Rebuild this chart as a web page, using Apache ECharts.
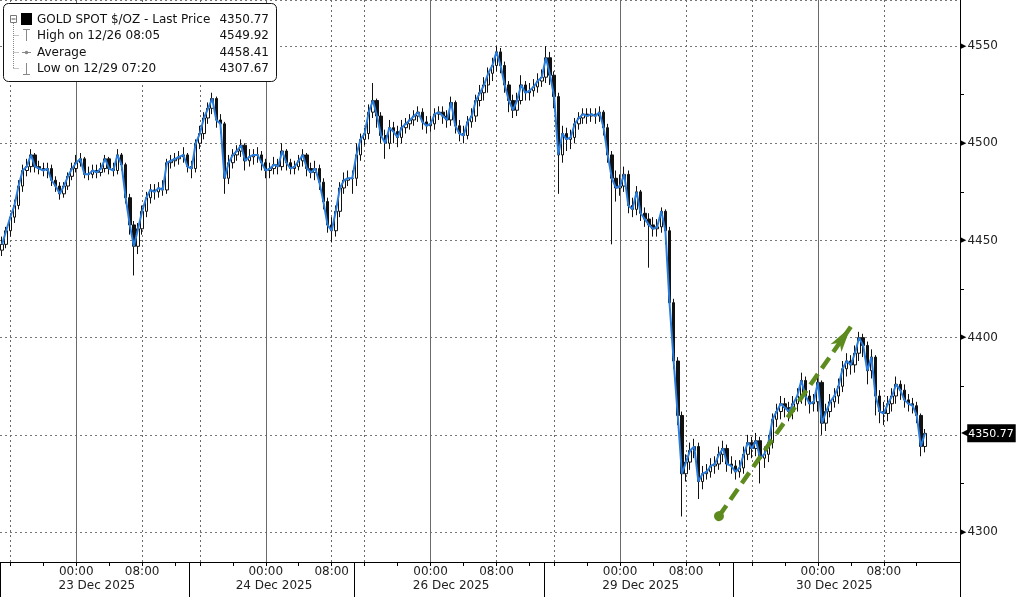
<!DOCTYPE html>
<html><head><meta charset="utf-8">
<script src="https://cdn.jsdelivr.net/npm/echarts@6/dist/echarts.min.js"></script>
<style>html,body{margin:0;padding:0;background:#fff}#c{width:1017px;height:597px}</style>
</head><body><div id="c"></div>
<script>
// ---- Trading sessions (30-minute slots) ----
const sessionLabels = ['23 Dec 2025', '24 Dec 2025', '26 Dec 2025', '29 Dec 2025', '30 Dec 2025'];
const sessionStartDay = [22, 23, 25, 28, 29];
const sessionStartHour = [15, 15, 15, 15, 14];
const sessionSlots = [46, 40, 46, 46, 48];
const blankSlotsRight = 7;

// ---- Price data (30-minute bars) ----
const firstOpen = 4445;
const closes = [
 4448,4455,4462,4468,4478,4486,4488,4494,4488,4487,
 4486,4487,4481,4478,4474,4478,4483,4487,4490,4492,
 4484,4484,4486,4485,4487,4492,4487,4486,4494,4489,
 4472,4458,4447,4456,4465,4472,4476,4475,4477,4476,
 4490,4491,4492,4493,4494,4488,
 4487,4500,4505,4513,4518,4523,4512,4510,4482,4490,
 4494,4496,4499,4491,4493,4494,4494,4490,4486,4487,
 4489,4488,4496,4490,4487,4488,4491,4494,4487,4485,
 4487,4480,4470,4458,4455,4465,4477,4481,4482,4482,
 4494,4502,4505,4516,4522,4514,4504,4500,4508,4506,
 4503,4508,4510,4512,4514,4516,4511,4509,4510,4515,
 4516,4514,4512,4521,4509,4505,4504,4511,4514,4522,
 4526,4530,4536,4540,4547,4540,4530,4522,4517,4522,
 4530,4526,4527,4529,4532,4534,
 4544,4535,4524,4494,4505,4502,4503,4510,4513,4515,
 4514,4515,4514,4516,4508,4494,4482,4477,4478,4484,
 4468,4466,4475,4464,4461,4458,4456,4457,4465,4455,
 4418,4388,4360,4330,4336,4342,4344,4326,4330,4331,
 4334,4335,4340,4343,4335,4334,
 4331,4333,4340,4346,4343,4347,4338,4340,4346,4358,
 4362,4366,4364,4362,4366,4370,4378,4370,4366,4367,
 4377,4356,4362,4367,4370,4375,4384,4388,4386,4392,
 4400,4396,4383,4390,4370,4362,4361,4366,4370,4376,
 4373,4368,4366,4365,4360,4344,4350.77
];
const highs = [
 4452,4457,4464,4471,4481,4489,4492,4497,4495,4491,
 4490,4490,4489,4483,4480,4480,4485,4490,4494,4495,
 4493,4488,4489,4489,4490,4494,4493,4490,4497,4495,
 4490,4474,4460,4459,4468,4475,4479,4479,4480,4481,
 4492,4494,4495,4496,4498,4495,
 4491,4502,4509,4516,4521,4526,4524,4515,4511,4494,
 4497,4499,4502,4500,4497,4497,4498,4496,4492,4490,
 4493,4492,4500,4497,4492,4491,4494,4497,4495,4490,
 4491,4489,4482,4472,4462,4468,4480,4485,4486,4486,
 4500,4505,4508,4520,4531,4523,4516,4507,4512,4511,
 4509,4512,4513,4515,4517,4519,4518,4514,4514,4518,
 4519,4519,4517,4524,4522,4512,4509,4514,4518,4525,
 4530,4534,4539,4544,4550,4549,4542,4532,4525,4526,
 4535,4532,4531,4533,4536,4538,
 4550,4547,4537,4526,4509,4508,4507,4513,4516,4518,
 4518,4518,4518,4519,4517,4510,4496,4486,4484,4488,
 4486,4472,4478,4476,4467,4464,4462,4461,4467,4466,
 4457,4420,4390,4362,4340,4346,4348,4346,4334,4335,
 4338,4339,4344,4347,4345,4339,
 4337,4337,4344,4350,4349,4351,4349,4344,4350,4361,
 4366,4370,4369,4367,4370,4374,4382,4380,4373,4371,
 4380,4378,4366,4371,4374,4379,4388,4392,4391,4396,
 4403,4402,4398,4394,4391,4373,4367,4370,4374,4380,
 4378,4376,4371,4369,4367,4361,4353
];
const lows = [
 4442,4446,4452,4459,4466,4475,4483,4485,4485,4484,
 4483,4482,4478,4475,4471,4472,4476,4481,4485,4488,
 4482,4481,4482,4482,4483,4485,4484,4483,4484,4486,
 4469,4453,4432,4443,4453,4462,4469,4471,4472,4473,
 4474,4487,4488,4489,4490,4485,
 4482,4485,4497,4502,4510,4515,4508,4505,4474,4479,
 4487,4491,4493,4486,4488,4489,4490,4486,4482,4482,
 4484,4484,4486,4486,4484,4484,4486,4488,4483,4482,
 4481,4476,4466,4454,4449,4452,4462,4474,4478,4474,
 4478,4491,4499,4502,4513,4508,4500,4492,4497,4500,
 4498,4500,4505,4507,4509,4511,4507,4505,4506,4507,
 4512,4510,4508,4509,4505,4501,4500,4502,4508,4511,
 4519,4522,4526,4532,4537,4536,4526,4516,4513,4514,
 4520,4522,4522,4524,4526,4529,
 4531,4530,4518,4474,4490,4496,4497,4500,4507,4510,
 4510,4511,4510,4511,4504,4490,4448,4470,4473,4475,
 4464,4462,4463,4460,4457,4436,4452,4452,4454,4448,
 4414,4384,4355,4308,4326,4332,4338,4317,4322,4327,
 4328,4330,4332,4336,4331,4330,
 4327,4328,4330,4337,4338,4339,4325,4333,4336,4343,
 4354,4358,4359,4357,4358,4362,4366,4365,4361,4362,
 4362,4350,4352,4359,4364,4366,4372,4380,4381,4382,
 4388,4390,4376,4379,4360,4356,4355,4357,4362,4366,
 4368,4364,4362,4361,4356,4339,4341
];
const lastPrice = 4350.77;
const legendRows = [
 ['GOLD SPOT $/OZ - Last Price', '4350.77'],
 ['High on 12/26 08:05', '4549.92'],
 ['Average', '4458.41'],
 ['Low on 12/29 07:20', '4307.67']
];
// trend arrow annotation (slot index, price)
const arrowStart = [174, 4308.2];
const arrowEnd = [206, 4405.6];

// y range of the plot
const yMin = 4284.6, yMax = 4573.7;

// ---- build categories ----
function pad(n){ return (n < 10 ? '0' : '') + n; }
const categories = [];
const sessionStartIdx = [];
for (let s = 0; s < sessionLabels.length; s++) {
  sessionStartIdx.push(categories.length);
  for (let k = 0; k < sessionSlots[s]; k++) {
    const m = sessionStartHour[s] * 60 + 30 * k;
    const day = sessionStartDay[s] + Math.floor(m / 1440);
    const mm = m % 1440;
    categories.push(day + ' Dec ' + pad(Math.floor(mm / 60)) + ':' + pad(mm % 60));
  }
}
const axisEndIdx = categories.length;
for (let k = 0; k < blankSlotsRight; k++) categories.push('blank' + k);
const timeOf = v => (v.indexOf('Dec') >= 0 ? v.split(' ')[2] : '');

const dateLabelAt = {};
for (let s = 0; s < sessionLabels.length; s++) {
  const a = sessionStartIdx[s];
  const b = s + 1 < sessionStartIdx.length ? sessionStartIdx[s + 1] : axisEndIdx;
  dateLabelAt[Math.round((a + b) / 2)] = sessionLabels[s];
}

const candles = closes.map((c, i) => [i === 0 ? firstOpen : closes[i - 1], c, lows[i], highs[i]]);

const gridLines = [];
for (let i = 0; i < axisEndIdx; i++) {
  const t = timeOf(categories[i]);
  if (t === '00:00') gridLines.push({xAxis: categories[i], lineStyle: {color: '#6a6a6a', type: 'solid', width: 1}});
  else if (t === '08:00' || t === '16:00') gridLines.push({xAxis: categories[i], lineStyle: {color: '#6a6a6a', type: [2, 3], width: 1}});
}

const FONT = 'DejaVu Sans';
const chart = echarts.init(document.getElementById('c'));

const graphics = [
  {type: 'rect', z: 100, shape: {x: 3.5, y: 3.5, width: 273, height: 78, r: 5}, style: {fill: '#fff', stroke: '#111', lineWidth: 1}},
  {type: 'line', z: 101, shape: {x1: 13.5, y1: 23, x2: 13.5, y2: 68.5}, style: {stroke: '#888', lineDash: [1, 1]}},
  {type: 'line', z: 101, shape: {x1: 13.5, y1: 35.5, x2: 19, y2: 35.5}, style: {stroke: '#888', lineDash: [1, 1]}},
  {type: 'line', z: 101, shape: {x1: 13.5, y1: 52.5, x2: 19, y2: 52.5}, style: {stroke: '#888', lineDash: [1, 1]}},
  {type: 'line', z: 101, shape: {x1: 13.5, y1: 68.5, x2: 19, y2: 68.5}, style: {stroke: '#888', lineDash: [1, 1]}},
  {type: 'rect', z: 102, shape: {x: 10.5, y: 15.5, width: 6, height: 7}, style: {fill: '#fff', stroke: '#777', lineWidth: 1}},
  {type: 'line', z: 103, shape: {x1: 11.5, y1: 19, x2: 15.5, y2: 19}, style: {stroke: '#555', lineWidth: 1}},
  {type: 'rect', z: 102, shape: {x: 21, y: 13, width: 11, height: 12}, style: {fill: '#000'}},
  // High icon
  {type: 'line', z: 102, shape: {x1: 23, y1: 29.5, x2: 30, y2: 29.5}, style: {stroke: '#888', lineWidth: 1}},
  {type: 'line', z: 102, shape: {x1: 26.5, y1: 29.5, x2: 26.5, y2: 41}, style: {stroke: '#888', lineWidth: 1}},
  // Average icon
  {type: 'line', z: 102, shape: {x1: 22, y1: 52.5, x2: 31, y2: 52.5}, style: {stroke: '#888', lineWidth: 1}},
  {type: 'circle', z: 102, shape: {cx: 26.5, cy: 52.5, r: 1.8}, style: {fill: '#888'}},
  // Low icon
  {type: 'line', z: 102, shape: {x1: 26.5, y1: 63, x2: 26.5, y2: 74.5}, style: {stroke: '#888', lineWidth: 1}},
  {type: 'line', z: 102, shape: {x1: 23, y1: 74.5, x2: 30, y2: 74.5}, style: {stroke: '#888', lineWidth: 1}}
];
const rowY = [19.5, 35.5, 52.5, 69];
legendRows.forEach((r, k) => {
  graphics.push({type: 'text', z: 104, x: 37, y: rowY[k], style: {text: r[0], fill: '#111', font: '12px "DejaVu Sans"', verticalAlign: 'middle', align: 'left'}});
  graphics.push({type: 'text', z: 104, x: 269, y: rowY[k], style: {text: r[1], fill: '#111', font: '12px "DejaVu Sans"', verticalAlign: 'middle', align: 'right'}});
});

chart.setOption({
  animation: false,
  backgroundColor: '#fff',
  grid: {left: 0, right: 57, top: 0, bottom: 35, containLabel: false},
  xAxis: [
    {
      type: 'category', data: categories, boundaryGap: true, position: 'bottom',
      axisLine: {show: true, lineStyle: {color: '#000', width: 1}},
      axisTick: {show: true, alignWithLabel: true, length: 4, lineStyle: {color: '#000'},
        interval: (i, v) => { const t = timeOf(v); return t !== '' && t.slice(3) === '00' && (+t.slice(0, 2)) % 4 === 0; }},
      axisLabel: {show: true, margin: 4, color: '#222', fontFamily: FONT, fontSize: 12,
        interval: (i, v) => { const t = timeOf(v); return t === '00:00' || t === '08:00'; },
        formatter: v => timeOf(v)},
      splitLine: {show: false}
    },
    {
      type: 'category', data: categories, boundaryGap: true, position: 'bottom',
      axisLine: {show: false},
      axisTick: {show: true, alignWithLabel: false, length: 36, lineStyle: {color: '#000'},
        interval: (i) => sessionStartIdx.indexOf(i) >= 0},
      axisLabel: {show: true, margin: 18, color: '#222', fontFamily: FONT, fontSize: 12,
        interval: (i) => dateLabelAt[i] !== undefined,
        formatter: (v, i) => dateLabelAt[i] || ''},
      splitLine: {show: false}
    }
  ],
  yAxis: {
    type: 'value', position: 'right', min: yMin, max: yMax, splitNumber: 5, scale: true,
    axisLine: {show: true, lineStyle: {color: '#000', width: 1}},
    axisTick: {show: false},
    minorTick: {show: true, splitNumber: 2, length: 4, lineStyle: {color: '#000'}},
    splitLine: {show: true, lineStyle: {color: '#777', type: [2, 3], width: 1}},
    axisLabel: {
      show: true, margin: 1, showMinLabel: false, showMaxLabel: false,
      formatter: v => (v === 4350 ? '' : '{t|▶}{v|' + v + '}'),
      rich: {t: {fontSize: 7, color: '#000', fontFamily: FONT, padding: [0, 1, 0, 0]},
             v: {fontSize: 12, color: '#222', fontFamily: FONT}}
    }
  },
  graphic: graphics,
  series: [
    {
      type: 'candlestick', data: candles, barWidth: '72%', z: 2,
      itemStyle: {color: '#ffffff', color0: '#111111', borderColor: '#111111', borderColor0: '#111111', borderWidth: 1}
    },
    {
      type: 'line', data: closes, showSymbol: false, symbol: 'none', z: 3,
      lineStyle: {color: '#2b7ddc', width: 2}, itemStyle: {color: '#2b7ddc'},
      markLine: {
        silent: true, symbol: 'none', z: 1, animation: false,
        label: {show: false},
        data: gridLines
      }
    },
    {
      type: 'line', data: [], showSymbol: false,
      markLine: {
        silent: true, animation: false, z: 6,
        symbol: ['circle', 'arrow'], symbolSize: [10, 26],
        label: {show: false},
        lineStyle: {color: '#5d8b1e', width: 4.5, type: [13, 7]},
        data: [[{coord: [categories[arrowStart[0]], arrowStart[1]]}, {coord: [categories[arrowEnd[0]], arrowEnd[1]]}]]
      }
    },
    {
      type: 'line', data: [], showSymbol: false,
      markLine: {
        silent: true, symbol: 'none', animation: false, z: 7,
        lineStyle: {color: 'rgba(0,0,0,0)', width: 1},
        data: [{yAxis: lastPrice}],
        label: {show: true, position: 'end', distance: 1,
          formatter: '{a|◀}{b|' + lastPrice.toFixed(2) + '}',
          rich: {a: {color: '#000', fontSize: 12, fontFamily: FONT, padding: [0, -3, 0, 0]},
                 b: {backgroundColor: '#000', color: '#fff', fontSize: 11, fontFamily: FONT, padding: [4, 2, 3, 1]}}}
      }
    }
  ]
});
</script>
</body></html>
